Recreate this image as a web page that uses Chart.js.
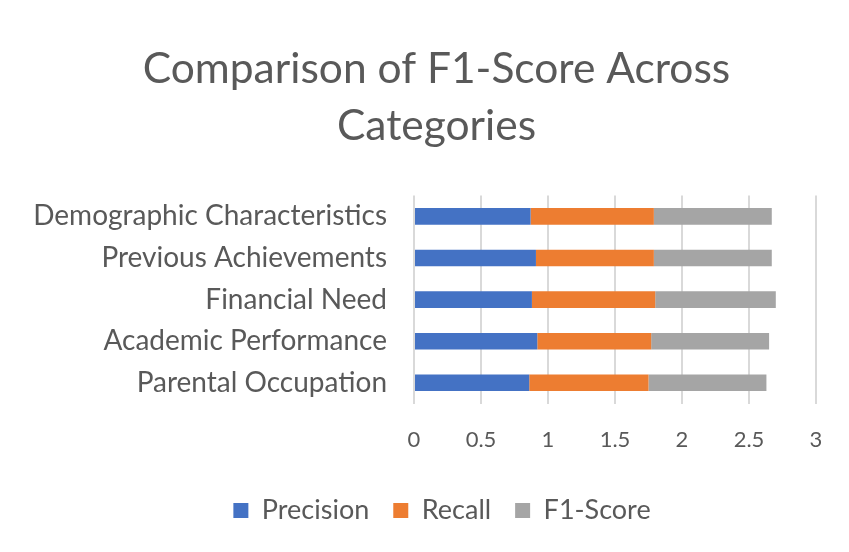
<!DOCTYPE html>
<html>
<head>
<meta charset="utf-8">
<script src="https://cdn.jsdelivr.net/npm/chart.js@4"></script>
<style>
  html,body{margin:0;padding:0;background:#fff;}
  #wrap{width:849px;height:552px;position:relative;}
</style>
</head>
<body>
<div id="wrap"><canvas id="chart" width="849" height="552"></canvas></div>
<script>
// Categorias (de arriba hacia abajo, como en la imagen)
const categories = ['Demographic Characteristics','Previous Achievements','Financial Need','Academic Performance','Parental Occupation'];
const precision = [0.87, 0.91, 0.88, 0.92, 0.86];
const recall    = [0.92, 0.88, 0.92, 0.85, 0.89];
const f1score   = [0.88, 0.88, 0.90, 0.88, 0.88];
const xTicks = [0, 0.5, 1, 1.5, 2, 2.5, 3];

const grey = '#595959';
const fam = 'Lato, "Open Sans", sans-serif';

// Titulo y leyenda de Excel quedan centrados un poco a la derecha
const shiftBlocks = {
  id: 'shiftBlocks',
  afterLayout(chart){
    if (chart.titleBlock) chart.titleBlock.left = 57;
    if (chart.legend) chart.legend.left = 68;
  }
};

new Chart(document.getElementById('chart'), {
  type: 'bar',
  data: {
    labels: categories,
    datasets: [
      { label:'Precision', data:precision, backgroundColor:'#4472c4' },
      { label:'Recall', data:recall, backgroundColor:'#ed7d31' },
      { label:'F1-Score', data:f1score, backgroundColor:'#a5a5a5' }
    ]
  },
  options: {
    indexAxis: 'y',
    responsive: false,
    animation: false,
    datasets: { bar: { categoryPercentage: 1, barPercentage: 0.4 } },
    layout: { padding: { left: 0, right: 33, top: 0, bottom: 18 } },
    scales: {
      x: {
        stacked: true, min: 0, max: 3,
        afterBuildTicks: s => { s.ticks = xTicks.map(v => ({ value: v })); },
        afterFit: s => { s.height = s.height - 3; },
        grid: { color:'#d9d9d9', lineWidth:2, drawTicks:false },
        border: { display:false },
        ticks: { color:grey, padding:23, font:{ family:fam, size:22 }, callback: v => String(v) }
      },
      y: {
        stacked: true,
        afterFit: s => { s.width = 414; },
        grid: { display:false },
        border: { display:false },
        ticks: { color:grey, padding:19, font:{ family:fam, size:28 } }
      }
    },
    plugins: {
      title: {
        display: true,
        text: ['Comparison of F1-Score Across','Categories'],
        color: grey,
        font: { family:fam, size:42.5, weight:'normal', lineHeight:1.36 },
        padding: { top: 40, bottom: 40 }
      },
      legend: {
        position: 'bottom',
        labels: { color:grey, boxWidth:15, boxHeight:15, padding:24, font:{ family:fam, size:27 } }
      },
      tooltip: { enabled:false }
    }
  },
  plugins: [shiftBlocks]
});
</script>
</body>
</html>
